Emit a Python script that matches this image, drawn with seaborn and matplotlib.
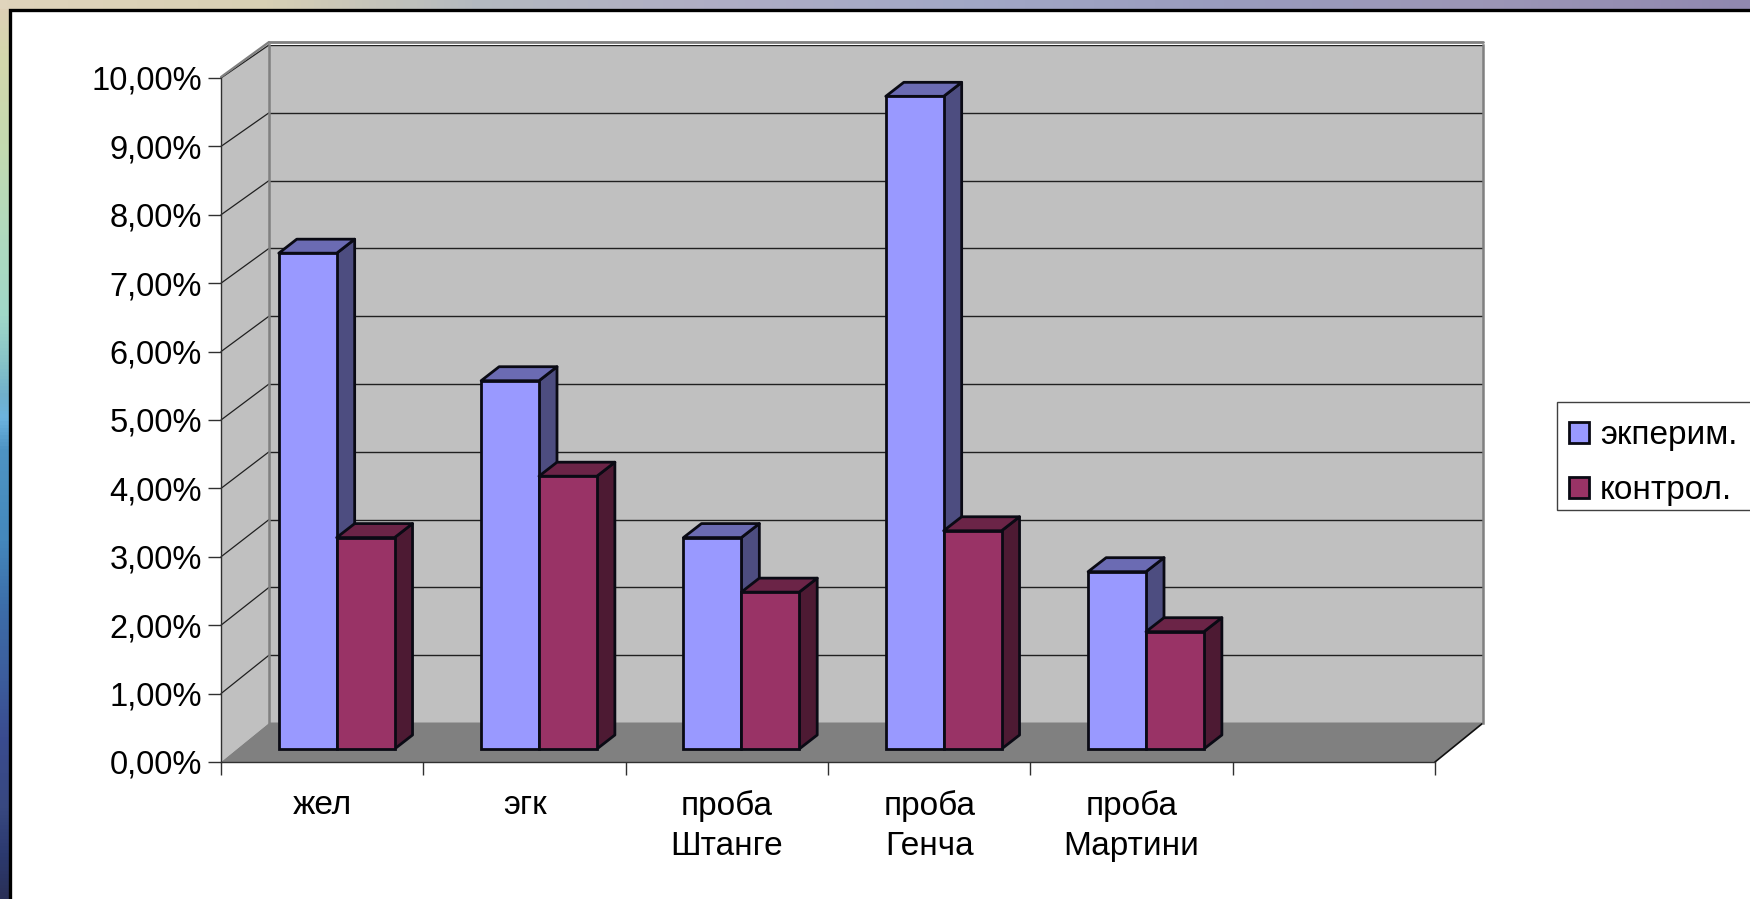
import numpy as np
import pandas as pd
import matplotlib
matplotlib.use("Agg")
import matplotlib.pyplot as plt
from matplotlib.colors import to_rgb, LinearSegmentedColormap
from matplotlib.patches import Polygon, Rectangle
import seaborn as sns

# Chart values, in percent
categories = ["жел", "эгк", "проба\nШтанге", "проба\nГенча", "проба\nМартини", " "]
series_names = ["экперим.", "контрол."]
experimental = [7.27, 5.4, 3.1, 9.57, 2.6]
control = [3.1, 4.0, 2.3, 3.2, 1.72]
y_ticks = list(range(0, 11))

W, H = 1750, 899
BLUE, RED = "#9999FF", "#993366"
WALL, FLOOR = "#C0C0C0", "#808080"
EDGE = "#0a0a14"

sns.set_theme(style="white")
plt.rcParams["font.family"] = ["Liberation Sans", "DejaVu Sans"]
plt.rcParams["text.color"] = "black"
plt.rcParams["xtick.labelcolor"] = "black"
plt.rcParams["ytick.labelcolor"] = "black"
FS_TICK = 23.5
FS_TEXT = 24


def box(x0, y_top, x1, y_bottom):
    """Figure-fraction rectangle from top-left pixel coordinates."""
    return [x0 / W, 1 - y_bottom / H, (x1 - x0) / W, (y_bottom - y_top) / H]


def shade(color, factor):
    return tuple(c * factor for c in to_rgb(color))


fig = plt.figure(figsize=(W / 100, H / 100), dpi=100)

# Slide backdrop: full-figure canvas in pixel coordinates
ax_bg = fig.add_axes([0, 0, 1, 1], zorder=0)
ax_bg.axis("off")
side_cmap = LinearSegmentedColormap.from_list("side", [
    (0.00, "#E0CFB8"), (0.06, "#D4D8AC"), (0.16, "#C4DAB0"), (0.26, "#B0DABE"),
    (0.35, "#A0D8C8"), (0.40, "#88C4C8"), (0.44, "#70B0CC"), (0.465, "#6CB4E0"),
    (0.50, "#4E94C4"), (0.60, "#4488BC"), (0.68, "#3C6CA8"), (0.76, "#3C5C9C"),
    (0.82, "#3A4C90"), (0.90, "#384880"), (0.95, "#2C3A70"), (1.00, "#2A3058"),
])
top_cmap = LinearSegmentedColormap.from_list("top", [
    (0.00, "#E0D4BC"), (0.15, "#D8D0B4"), (0.27, "#B4BAC0"), (0.40, "#B0AEC4"),
    (0.55, "#A2A8C6"), (0.70, "#9A9CBE"), (0.85, "#9C96B6"), (1.00, "#9088B0"),
])
ramp = np.linspace(0, 1, 256)
ax_bg.imshow(ramp[:, None], cmap=side_cmap, extent=(0, 10, H, 0), aspect="auto", zorder=0)
ax_bg.imshow(ramp[None, :], cmap=top_cmap, extent=(0, W, 9, 0), aspect="auto", zorder=0.5)
ax_bg.add_patch(Rectangle((10, 10), W, H, facecolor="white", edgecolor="black", lw=2.4, zorder=1))
ax_bg.set_xlim(0, W)
ax_bg.set_ylim(H, 0)

# Chart frame geometry, in pixels
FRONT_L, FRONT_R, FRONT_0, FRONT_10 = 221, 1435, 762, 78
BACK_L, BACK_R, BACK_0, BACK_10 = 269, 1483, 723, 45


def front_y(v):
    return FRONT_0 + (FRONT_10 - FRONT_0) * v / 10


def back_y(v):
    return BACK_0 + (BACK_10 - BACK_0) * v / 10


# Left wall, floor and the gridlines running across the left wall
ax_bg.add_patch(Polygon([(FRONT_L, FRONT_0), (BACK_L, BACK_0), (BACK_L, BACK_10 - 3), (FRONT_L, FRONT_10)],
                        facecolor=WALL, edgecolor="none", zorder=2))
ax_bg.add_patch(Polygon([(FRONT_L, FRONT_0), (FRONT_R, FRONT_0), (BACK_R, BACK_0), (BACK_L, BACK_0)],
                        facecolor=FLOOR, edgecolor="none", zorder=2))
for v in y_ticks[1:]:
    ax_bg.plot([FRONT_L, BACK_L], [front_y(v), back_y(v)], color="#202020", lw=0.9, zorder=3)
ax_bg.plot([FRONT_L, BACK_L], [FRONT_10 - 1, BACK_10 - 3], color=FLOOR, lw=1.6, zorder=3)
ax_bg.plot([FRONT_R, BACK_R], [FRONT_0, BACK_0], color="#101010", lw=1.2, zorder=3)

# Legend frame runs out to the right edge of the slide
ax_bg.add_patch(Rectangle((1557, 402), W, 108, facecolor="white", edgecolor="#404040", lw=1, zorder=3))

# Back wall with its horizontal gridlines
ax_back = fig.add_axes(box(BACK_L, BACK_10, BACK_R, BACK_0), zorder=1, facecolor=WALL)
ax_back.set_ylim(0, 10)
ax_back.set_xlim(0, 1)
ax_back.set_xticks([])
ax_back.set_yticks(y_ticks)
ax_back.tick_params(left=False, labelleft=False)
ax_back.grid(axis="y", color="#202020", lw=1.0)
ax_back.set_axisbelow(True)
for name, spine in ax_back.spines.items():
    spine.set_visible(name in ("left", "right"))
    spine.set_color(FLOOR)
    spine.set_linewidth(1.8)
ax_back.plot([0, 1], [10.045, 10.045], color=FLOOR, lw=2, clip_on=False)

# Front plane carries the axes, ticks and tick labels
ax = fig.add_axes(box(FRONT_L, FRONT_10, FRONT_R, FRONT_0), zorder=2)
ax.patch.set_alpha(0)
ax.set_ylim(0, 10)
ax.set_xlim(-0.5, len(categories) - 0.5)
ax.set_yticks(y_ticks, [f"{v},00%" for v in y_ticks], fontsize=FS_TICK)
ax.set_xticks(np.arange(len(categories) + 1) - 0.5, [""] * (len(categories) + 1))
ax.set_xticks(np.arange(len(categories)), categories, minor=True, fontsize=FS_TEXT)
ax.tick_params(axis="y", left=True, length=9.4, width=1, color="#303030", pad=4.5)
ax.tick_params(axis="x", which="major", bottom=True, length=9, width=1, color="#303030")
ax.tick_params(axis="x", which="minor", bottom=False, length=0, pad=20)
for label in ax.get_xticklabels(minor=True):
    label.set_linespacing(1.4)
for name, spine in ax.spines.items():
    spine.set_visible(name in ("left", "bottom"))
    spine.set_color("#303030")
    spine.set_linewidth(1)

# Bars stand a third of the way into the floor's depth
BAR_DX = 14.5
ax_bars = fig.add_axes(box(FRONT_L + BAR_DX, 749 - 682, FRONT_R + BAR_DX, 749), zorder=3)
ax_bars.patch.set_alpha(0)
bars = pd.DataFrame({
    "category": categories[:5] * 2,
    "value": experimental + control,
    "series": [series_names[0]] * 5 + [series_names[1]] * 5,
})
sns.barplot(data=bars, x="category", y="value", hue="series", order=categories,
            hue_order=series_names, palette=[BLUE, RED], width=0.572, gap=0,
            saturation=1, edgecolor=EDGE, linewidth=2.0, ax=ax_bars, legend=True)
handles, labels = ax_bars.get_legend_handles_labels()
ax_bars.get_legend().remove()
ax_bars.set_xlim(-0.5, len(categories) - 0.5)
ax_bars.set_ylim(0, 10)
ax_bars.axis("off")

# Side and top faces extruded from each bar's front rectangle
depth_x = 18 / ((FRONT_R - FRONT_L) / len(categories))
depth_y = 14 / 68.2
front_faces = [p for p in ax_bars.patches if p.get_height() > 0]
for patch in front_faces:
    x0, x1 = patch.get_x(), patch.get_x() + patch.get_width()
    h = patch.get_height()
    base = patch.get_facecolor()
    is_red = np.allclose(base[:3], to_rgb(RED))
    z = 4 if is_red else 2
    ax_bars.add_patch(Polygon([(x1, 0), (x1 + depth_x, depth_y), (x1 + depth_x, h + depth_y), (x1, h)],
                              facecolor=shade(base[:3], 0.5), edgecolor=EDGE, lw=2.0,
                              joinstyle="round", clip_on=False, zorder=z))
    ax_bars.add_patch(Polygon([(x0, h), (x1, h), (x1 + depth_x, h + depth_y), (x0 + depth_x, h + depth_y)],
                              facecolor=shade(base[:3], 0.7), edgecolor=EDGE, lw=2.0,
                              joinstyle="round", clip_on=False, zorder=z))
    patch.set_zorder(z + 0.5)
    patch.set_clip_on(False)

# Legend entries sit inside the frame drawn above
leg = fig.legend(handles, labels, loc="upper left", bbox_to_anchor=(1557 / W, 1 - 408 / H),
                 fontsize=FS_TEXT, frameon=False, handlelength=0.6, handleheight=0.6,
                 handletextpad=0.32, labelspacing=0.72, borderpad=0.36, borderaxespad=0)
leg.set_zorder(5)

fig.savefig("out.png", dpi=100)
